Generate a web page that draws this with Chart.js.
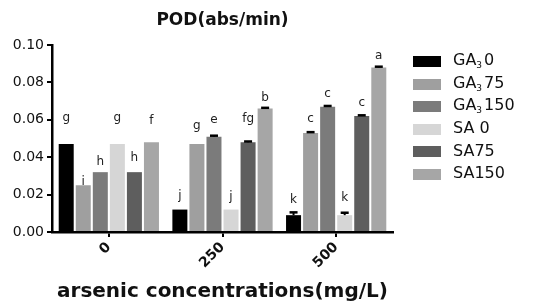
<!DOCTYPE html>
<html>
<head>
<meta charset="utf-8">
<script src="https://cdn.jsdelivr.net/npm/chart.js@4"></script>
<style>
  html, body { margin: 0; padding: 0; background: #fff; }
  #wrap { position: relative; width: 535px; height: 306px; }
  #legend { position: absolute; left: 413px; top: 49px; font-family: 'DejaVu Sans', sans-serif; font-size: 16px; color: #111; }
  .row { position: absolute; left: 0; height: 22px; display: flex; align-items: center; white-space: nowrap; }
  .box { width: 28px; height: 11px; margin-right: 12px; margin-top: 3px; }
  .row sub { font-size: 9px; vertical-align: -3px; margin-right: 2px; }
</style>
</head>
<body>
<div id="wrap">
  <canvas id="c" width="535" height="306"></canvas>
  <div id="legend"></div>
</div>
<script>
// arsenic levels (mg/L)
const categories = ['0', '250', '500'];

// series: [name, subscript, suffix]
const seriesNames = [['GA', '3', '0'], ['GA', '3', '75'], ['GA', '3', '150'], ['SA ', '', '0'], ['SA', '', '75'], ['SA', '', '150']];
const seriesColors = ['#000000', '#9f9f9f', '#7b7b7b', '#d6d6d6', '#5e5e5e', '#a6a6a6'];

// POD values
const ga0   = [0.047, 0.012, 0.009];
const ga75  = [0.025, 0.047, 0.053];
const ga150 = [0.032, 0.051, 0.067];
const sa0   = [0.047, 0.012, 0.009];
const sa75  = [0.032, 0.048, 0.062];
const sa150 = [0.048, 0.066, 0.088];

// error (SD)
const ga0Err   = [0, 0, 0.0015];
const ga75Err  = [0, 0, 0.0004];
const ga150Err = [0, 0.0005, 0.0004];
const sa0Err   = [0, 0, 0.0013];
const sa75Err  = [0, 0.0004, 0.0004];
const sa150Err = [0, 0.0004, 0.0004];

// significance letters and the value they sit at
const ga0Sig   = ['g', 'j', 'k'];
const ga75Sig  = ['i', 'g', 'c'];
const ga150Sig = ['h', 'e', 'c'];
const sa0Sig   = ['g', 'j', 'k'];
const sa75Sig  = ['h', 'fg', 'c'];
const sa150Sig = ['f', 'b', 'a'];

const ga0SigAt   = [0.0594, 0.0176, 0.0155];
const ga75SigAt  = [0.0251, 0.0551, 0.0590];
const ga150SigAt = [0.0358, 0.0583, 0.0724];
const sa0SigAt   = [0.0594, 0.0171, 0.0167];
const sa75SigAt  = [0.0380, 0.0588, 0.0674];
const sa150SigAt = [0.0578, 0.0701, 0.0924];

const yTicks = [0, 0.02, 0.04, 0.06, 0.08, 0.10];

const values = [ga0, ga75, ga150, sa0, sa75, sa150];
const errs   = [ga0Err, ga75Err, ga150Err, sa0Err, sa75Err, sa150Err];
const sigs   = [ga0Sig, ga75Sig, ga150Sig, sa0Sig, sa75Sig, sa150Sig];
const sigAt  = [ga0SigAt, ga75SigAt, ga150SigAt, sa0SigAt, sa75SigAt, sa150SigAt];

const FONT = "'DejaVu Sans', sans-serif";

// legend with subscripts
const lg = document.getElementById('legend');
seriesNames.forEach((n, i) => {
  const row = document.createElement('div');
  row.className = 'row';
  row.style.top = (i * 22.5) + 'px';
  row.innerHTML = `<div class="box" style="background:${seriesColors[i]}"></div><span>${n[0]}${n[1] ? '<sub>' + n[1] + '</sub>' : ''}${n[2]}</span>`;
  lg.appendChild(row);
});

const errAndLetters = {
  id: 'errAndLetters',
  afterDatasetsDraw(chart) {
    const ctx = chart.ctx;
    const y = chart.scales.y;
    ctx.save();
    chart.data.datasets.forEach((ds, di) => {
      const meta = chart.getDatasetMeta(di);
      meta.data.forEach((bar, i) => {
        const v = values[di][i], e = errs[di][i];
        if (e > 0) {
          const top = y.getPixelForValue(v + e);
          const bot = y.getPixelForValue(v);
          ctx.strokeStyle = '#000';
          ctx.lineWidth = 2;
          ctx.beginPath(); ctx.moveTo(bar.x, bot); ctx.lineTo(bar.x, top); ctx.stroke();
          ctx.lineWidth = 2.5;
          ctx.beginPath(); ctx.moveTo(bar.x - 4, top); ctx.lineTo(bar.x + 4, top); ctx.stroke();
        }
        ctx.fillStyle = '#222';
        ctx.font = '12px ' + FONT;
        ctx.textAlign = 'center';
        ctx.textBaseline = 'alphabetic';
        ctx.fillText(sigs[di][i], bar.x, y.getPixelForValue(sigAt[di][i]));
      });
    });
    ctx.restore();
  }
};

new Chart(document.getElementById('c'), {
  type: 'bar',
  data: {
    labels: categories,
    datasets: values.map((v, i) => ({
      label: seriesNames[i].join(''),
      data: v,
      backgroundColor: seriesColors[i],
      borderWidth: 0,
      categoryPercentage: 0.9,
      barPercentage: 0.88
    }))
  },
  options: {
    responsive: false,
    animation: false,
    layout: { padding: { left: 0, right: 142, top: 0, bottom: 0 } },
    plugins: {
      legend: { display: false },
      tooltip: { enabled: false },
      title: {
        display: true,
        text: 'POD(abs/min)',
        fullSize: false,
        color: '#111',
        font: { family: FONT, size: 17, weight: 'bold', lineHeight: 1.2 },
        padding: { top: 10, bottom: 14.6 }
      }
    },
    scales: {
      x: {
        afterFit: s => { s.height = 74; },
        grid: { display: true, drawOnChartArea: false, offset: false, drawTicks: true, tickLength: 5, color: '#000', lineWidth: 2 },
        border: { color: '#000', width: 2.5 },
        ticks: { color: '#111', font: { family: FONT, size: 14, weight: 'bold' }, minRotation: 45, maxRotation: 45, padding: 2 },
        title: {
          display: true,
          text: 'arsenic concentrations(mg/L)',
          color: '#111',
          font: { family: FONT, size: 20, weight: 'bold', lineHeight: 1.2 },
          padding: { top: 0, bottom: 2 }
        }
      },
      y: {
        min: 0, max: 0.1,
        afterFit: s => { s.width = 52; },
        afterBuildTicks: s => { s.ticks = yTicks.map(v => ({ value: v })); },
        grid: { display: true, drawOnChartArea: false, drawTicks: true, tickLength: 5, color: '#000', lineWidth: 2 },
        border: { color: '#000', width: 2.5 },
        ticks: { color: '#111', font: { family: FONT, size: 14 }, padding: 3, callback: v => v.toFixed(2) }
      }
    }
  },
  plugins: [errAndLetters]
});
</script>
</body>
</html>
